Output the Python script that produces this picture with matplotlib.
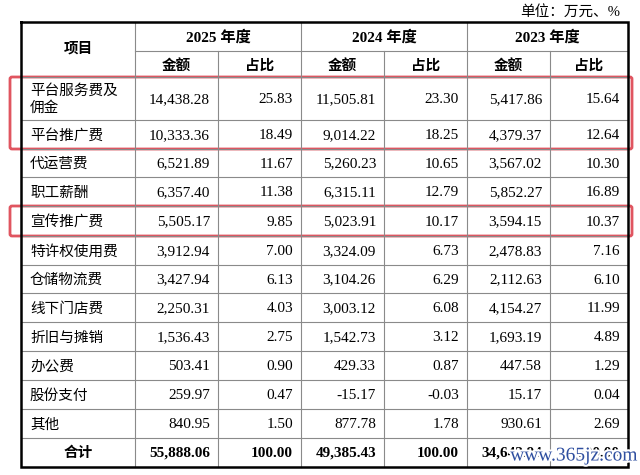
import matplotlib
matplotlib.use("Agg")
import matplotlib.pyplot as plt
from matplotlib.patches import FancyBboxPatch
import matplotlib.patheffects as pe

# table data (万元, %)
items = ["平台服务费及\n佣金", "平台推广费", "代运营费", "职工薪酬", "宣传推广费",
         "特许权使用费", "仓储物流费", "线下门店费", "折旧与摊销", "办公费",
         "股份支付", "其他"]
years = ["2025 年度", "2024 年度", "2023 年度"]
amt_2025 = [14438.28, 10333.36, 6521.89, 6357.40, 5505.17, 3912.94, 3427.94,
            2250.31, 1536.43, 503.41, 259.97, 840.95]
pct_2025 = [25.83, 18.49, 11.67, 11.38, 9.85, 7.00, 6.13, 4.03, 2.75, 0.90, 0.47, 1.50]
amt_2024 = [11505.81, 9014.22, 5260.23, 6315.11, 5023.91, 3324.09, 3104.26,
            3003.12, 1542.73, 429.33, -15.17, 877.78]
pct_2024 = [23.30, 18.25, 10.65, 12.79, 10.17, 6.73, 6.29, 6.08, 3.12, 0.87, -0.03, 1.78]
amt_2023 = [5417.86, 4379.37, 3567.02, 5852.27, 3594.15, 2478.83, 2112.63,
            4154.27, 1693.19, 447.58, 15.17, 930.61]
pct_2023 = [15.64, 12.64, 10.30, 16.89, 10.37, 7.16, 6.10, 11.99, 4.89, 1.29, 0.04, 2.69]
totals = [55888.06, 49385.43, 34642.94]
highlight = [0, 1, 4]

# layout in pixels
col_x = [21, 135, 218, 301, 384, 467, 550, 628]
head_y = [22, 51, 77]
row_y = [77, 120, 149, 177, 206, 236, 265, 293, 322, 351, 380, 409, 438, 467]

CJK = ["Noto Sans CJK SC"]
SER = ["Liberation Serif", "Noto Sans CJK SC"]
GRID = "#8a8a8a"

fig = plt.figure(figsize=(6.4, 4.75), dpi=100)
ax = fig.add_axes([0, 0, 1, 1])
ax.set_xlim(0, 640)
ax.set_ylim(475, 0)
ax.axis("off")

left, right = col_x[0], col_x[-1]
top, bottom = head_y[0], row_y[-1]

# inner grid
for x in col_x[1:-1]:
    y0 = head_y[1] if x not in (col_x[1], col_x[3], col_x[5]) else top
    ax.plot([x, x], [y0, bottom], color=GRID, lw=0.8)
ax.plot([col_x[1], right], [head_y[1], head_y[1]], color=GRID, lw=0.8)
for y in [head_y[2]] + row_y[1:-1]:
    ax.plot([left, right], [y, y], color=GRID, lw=0.8)
# outer border
ax.plot([left, right, right, left, left], [top, top, bottom, bottom, top],
        color="black", lw=1.8, solid_joinstyle="miter")

# header
ax.text((col_x[0] + col_x[1]) / 2, (top + head_y[2]) / 2 - 2, "项目", family=CJK,
        fontsize=10.5, fontweight="bold", ha="center", va="center")
for i, yr in enumerate(years):
    xa, xb = col_x[1 + 2 * i], col_x[3 + 2 * i]
    ax.text((xa + xb) / 2, (top + head_y[1]) / 2 + 1, yr, family=SER,
            fontsize=11, fontweight="bold", ha="center", va="center")
    for j, lab in enumerate(["金额", "占比"]):
        ax.text((col_x[1 + 2 * i + j] + col_x[2 + 2 * i + j]) / 2,
                (head_y[1] + head_y[2]) / 2 + 1, lab, family=CJK, fontsize=10.5,
                fontweight="bold", ha="center", va="center")

# body
cols = [amt_2025, pct_2025, amt_2024, pct_2024, amt_2023, pct_2023]
for r, name in enumerate(items):
    yc = (row_y[r] + row_y[r + 1]) / 2
    ax.text(col_x[0] + 9, yc + 1, name, family=CJK, fontsize=10.5,
            ha="left", va="center", linespacing=1.25)
    for c, vals in enumerate(cols):
        ax.text(col_x[c + 2] - 8, yc + 1, f"{vals[r]:,.2f}", family=SER,
                fontsize=11, ha="right", va="center")

yc = (row_y[-2] + row_y[-1]) / 2
ax.text((col_x[0] + col_x[1]) / 2, yc, "合计", family=CJK, fontsize=10.5,
        fontweight="bold", ha="center", va="center")
for i, t in enumerate(totals):
    ax.text(col_x[2 + 2 * i] - 8, yc + 1, f"{t:,.2f}", family=SER, fontsize=11,
            fontweight="bold", ha="right", va="center")
    ax.text(col_x[3 + 2 * i] - 8, yc + 1, "100.00", family=SER, fontsize=11,
            fontweight="bold", ha="right", va="center")

# unit note
ax.text(right - 8, 12, "单位：万元、%", family=SER, fontsize=10.5,
        ha="right", va="center")

# red highlight boxes
groups = [(0, 1), (4, 4)]
for a, b in groups:
    y0, y1 = row_y[a], row_y[b + 1]
    box = FancyBboxPatch((10, y0), 622, y1 - y0, boxstyle="round,pad=0,rounding_size=2",
                         fill=False, edgecolor="#e05560", lw=2.0)
    ax.add_patch(box)

# watermark
ax.text(574, 456, "www.365jz.com", family=["Liberation Serif"], fontsize=14,
        color="#2f4fa0", ha="center", va="center",
        path_effects=[pe.withStroke(linewidth=3, foreground="white")])

fig.savefig("out.png", dpi=100)
